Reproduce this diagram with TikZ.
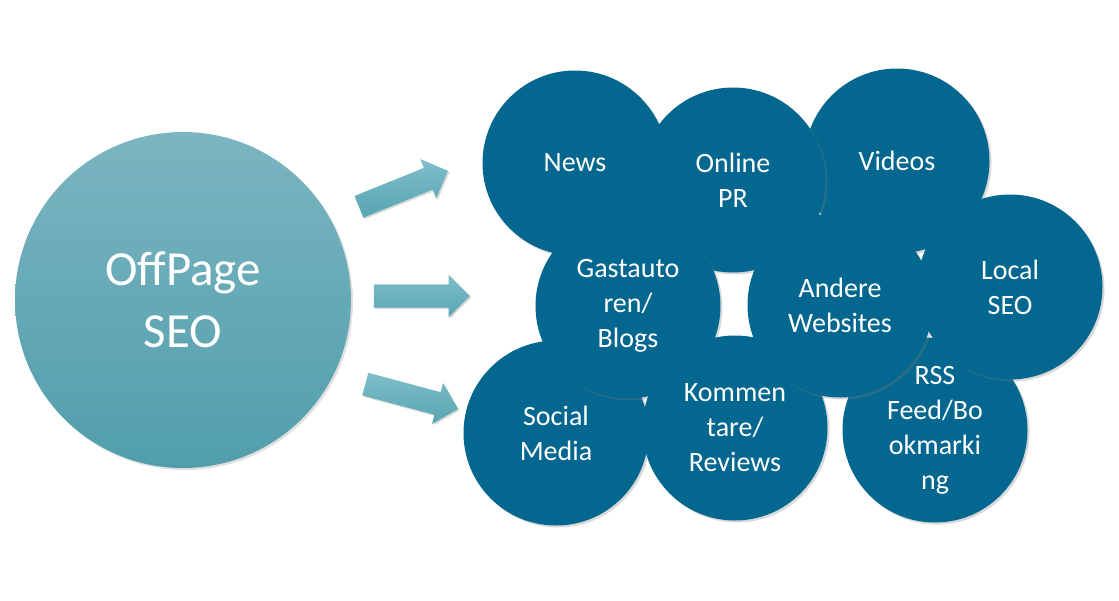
\documentclass[tikz,border=0pt]{standalone}
\usepackage{fontspec}
\setmainfont{Carlito}
\usetikzlibrary{shapes.arrows,shadows}

\definecolor{seoblue}{RGB}{3,103,143}
\definecolor{hubtop}{RGB}{123,181,193}
\definecolor{hubbottom}{RGB}{81,158,171}
\definecolor{arrtop}{RGB}{126,190,200}
\definecolor{arrbottom}{RGB}{88,165,179}

\tikzstyle{bubble} = [circle, fill=seoblue, minimum size=185pt, inner sep=0pt, text=white, align=center, font=\fontsize{28}{35}\selectfont, drop shadow={opacity=0.3, shadow xshift=2pt, shadow yshift=-2pt}]
\tikzstyle{hub} = [circle, top color=hubtop, bottom color=hubbottom, minimum size=336pt, inner sep=0pt, text=white, align=center, font=\fontsize{49}{62}\selectfont, drop shadow={opacity=0.25, shadow xshift=2pt, shadow yshift=-2pt}]
\tikzstyle{pointer} = [single arrow, top color=arrtop, bottom color=arrbottom, minimum height=96pt, minimum width=0pt, inner xsep=0pt, inner ysep=11.5pt, single arrow head extend=9.5pt, drop shadow={opacity=0.3, shadow xshift=1.5pt, shadow yshift=-1.5pt}]

\begin{document}
\begin{tikzpicture}[x=1pt, y=-1pt]
\useasboundingbox (0,0) rectangle (1119,600);

\node[hub] (offpage) at (183,300) {OffPage\\SEO};

\node[pointer, rotate=22] (toTop) at (398,191) {};
\node[pointer] (toMid) at (416,296) {};
\node[pointer, rotate=-15] (toLow) at (406,395) {};

\node[bubble] (news) at (575,163) {News};
\node[bubble] (videos) at (897,161) {Videos};
\node[bubble] (pr) at (733,180) {Online\\PR};
\node[bubble] (social) at (556,433) {Social\\Media};
\node[bubble] (rss) at (935,430) {RSS\\Feed/Bo\\okmarki\\ng};
\node[bubble] (blogs) at (628,306) {Gastauto\\ren/\\Blogs};
\node[bubble] (reviews) at (735,428) {Kommen\\tare/\\Reviews};
\node[bubble] (websites) at (840,305) {Andere\\Websites};
\node[bubble] (local) at (1010,287) {Local\\SEO};
\end{tikzpicture}
\end{document}
